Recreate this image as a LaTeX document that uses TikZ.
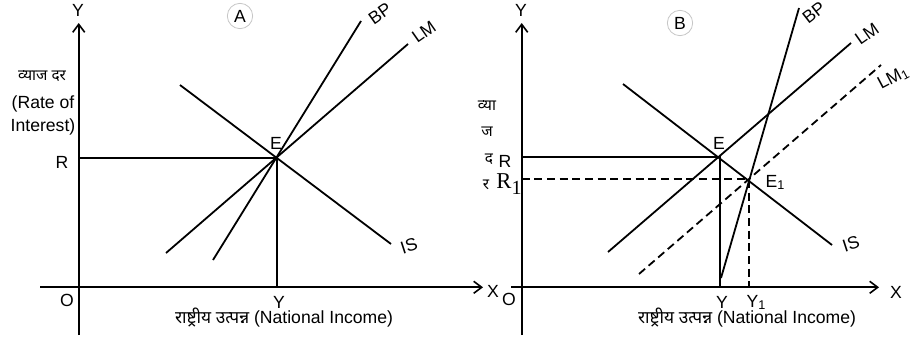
\documentclass[tikz,border=0pt]{standalone}
\usepackage{fontspec}
\setmainfont{Liberation Sans}
\newfontfamily\dev[Script=Devanagari]{Noto Sans}
\newfontfamily\tnr{Liberation Serif}
\usetikzlibrary{arrows.meta}
\newcommand{\subone}{{\fontsize{9.5}{10}\selectfont\raisebox{-1.5pt}{1}}}
\begin{document}
\begin{tikzpicture}[x=0.75pt,y=-0.75pt,
  curve/.style={line width=1.35pt},
  axisline/.style={line width=1.35pt,-{Straight Barb[length=6pt,width=9pt,line width=1.2pt]}},
  dashline/.style={line width=1.35pt,dash pattern=on 6pt off 3.5pt},
  lbl/.style={font=\fontsize{13.2}{15}\selectfont, inner sep=0pt},
  devl/.style={font=\dev\fontsize{11.5}{13}\selectfont, inner sep=0pt},
  badge/.style={circle, draw=gray!45, line width=0.6pt, minimum size=19pt, inner sep=0pt, font=\fontsize{13.2}{15}\selectfont}
]
\useasboundingbox (0,0) rectangle (916,343);
% ---------------- Panel A ----------------
\coordinate (AyB) at (78.7,335);
\coordinate (AyT) at (78.7,23);
\coordinate (AxL) at (40,287.3);
\coordinate (AxR) at (483,287.3);
\draw[axisline] (AyB) -- (AyT);
\draw[axisline] (AxL) -- (AxR);
\node[lbl] (AYlab) at (78,10) {Y};
\node[lbl] (AXlab) at (493,291) {X};
\node[lbl] (AOlab) at (67,300) {O};
\node[badge] (Abadge) at (240,16) {A};
\coordinate (AE) at (277,158);
\coordinate (AR) at (78.7,158);
\coordinate (AYf) at (277,287.3);
\draw[curve] (AR) -- (AE) -- (AYf);
\coordinate (AIS1) at (180,85);  \coordinate (AIS2) at (391,244);
\coordinate (ALM1) at (166,253); \coordinate (ALM2) at (408,44);
\coordinate (ABP1) at (213,260); \coordinate (ABP2) at (361,21);
\draw[curve] (AIS1) -- (AIS2);
\draw[curve] (ALM1) -- (ALM2);
\draw[curve] (ABP1) -- (ABP2);
\node[lbl] (ARlab) at (62,162) {R};
\node[lbl] (AElab) at (276,143) {E};
\node[lbl] (AYblab) at (279,302) {Y};
\node[lbl,rotate=18] (AISlab) at (409,246) {IS};
\node[lbl,rotate=35] (ALMlab) at (424,32) {LM};
\node[lbl,rotate=35] (ABPlab) at (380,14) {BP};
\node[devl] (Avyaj) at (42,76) {व्याज दर};
\node[lbl] (Arate) at (43,104) {(Rate of};
\node[lbl] (Aint) at (43,127) {Interest)};
\node[lbl] (Ani) at (284,318) {{\dev\fontsize{13}{14}\selectfont राष्ट्रीय उत्पन्न} (National Income)};
% ---------------- Panel B ----------------
\coordinate (ByB) at (521.7,335);
\coordinate (ByT) at (521.7,23);
\coordinate (BxL) at (511,287.3);
\coordinate (BxR) at (879,287.3);
\draw[axisline] (ByB) -- (ByT);
\draw[axisline] (BxL) -- (BxR);
\node[lbl] (BYlab) at (521,10) {Y};
\node[lbl] (BXlab) at (896,292) {X};
\node[lbl] (BOlab) at (509,299) {O};
\node[badge] (Bbadge) at (680,23) {B};
\coordinate (BE) at (720,157);
\coordinate (BR) at (521.7,157);
\coordinate (BYf) at (720,287.3);
\draw[curve] (BR) -- (BE) -- (BYf);
\coordinate (BE1) at (749,179.3);
\coordinate (BR1) at (521.7,179.3);
\coordinate (BY1f) at (749,287.3);
\draw[dashline] (BR1) -- (BE1) -- (BY1f);
\coordinate (BIS1) at (623,84);  \coordinate (BIS2) at (832,245);
\coordinate (BLM1) at (608,252); \coordinate (BLM2) at (851,43);
\coordinate (BLMd1) at (639,274); \coordinate (BLMd2) at (881,65);
\coordinate (BBP1) at (721,278); \coordinate (BBP2) at (799,8);
\draw[curve] (BIS1) -- (BIS2);
\draw[curve] (BLM1) -- (BLM2);
\draw[dashline] (BLMd1) -- (BLMd2);
\draw[curve] (BBP1) -- (BBP2);
\node[lbl] (BRlab) at (505,161) {R};
\node[inner sep=0pt] (BR1lab) at (509,184) {{\tnr\fontsize{17}{18}\selectfont R}{\tnr\fontsize{15}{16}\selectfont\raisebox{-5pt}{1}}};
\node[lbl] (BElab) at (719,143) {E};
\node[lbl] (BE1lab) at (775,182) {E\subone};
\node[lbl] (BYblab) at (722,302) {Y};
\node[lbl] (BY1blab) at (756,302) {Y\subone};
\node[lbl,rotate=18] (BISlab) at (851,244) {IS};
\node[lbl,rotate=35] (BLMlab) at (867,34) {LM};
\node[lbl,rotate=28] (BLM1lab) at (893,78) {LM\subone};
\node[lbl,rotate=38] (BBPlab) at (814,13) {BP};
\node[devl] (Bvya) at (487,106) {व्या};
\node[devl] (Bja) at (487,132) {ज};
\node[devl] (Bda) at (489,159) {द};
\node[devl] (Bra) at (486,185) {र};
\node[lbl] (Bni) at (747,318) {{\dev\fontsize{13}{14}\selectfont राष्ट्रीय उत्पन्न} (National Income)};
\end{tikzpicture}
\end{document}
